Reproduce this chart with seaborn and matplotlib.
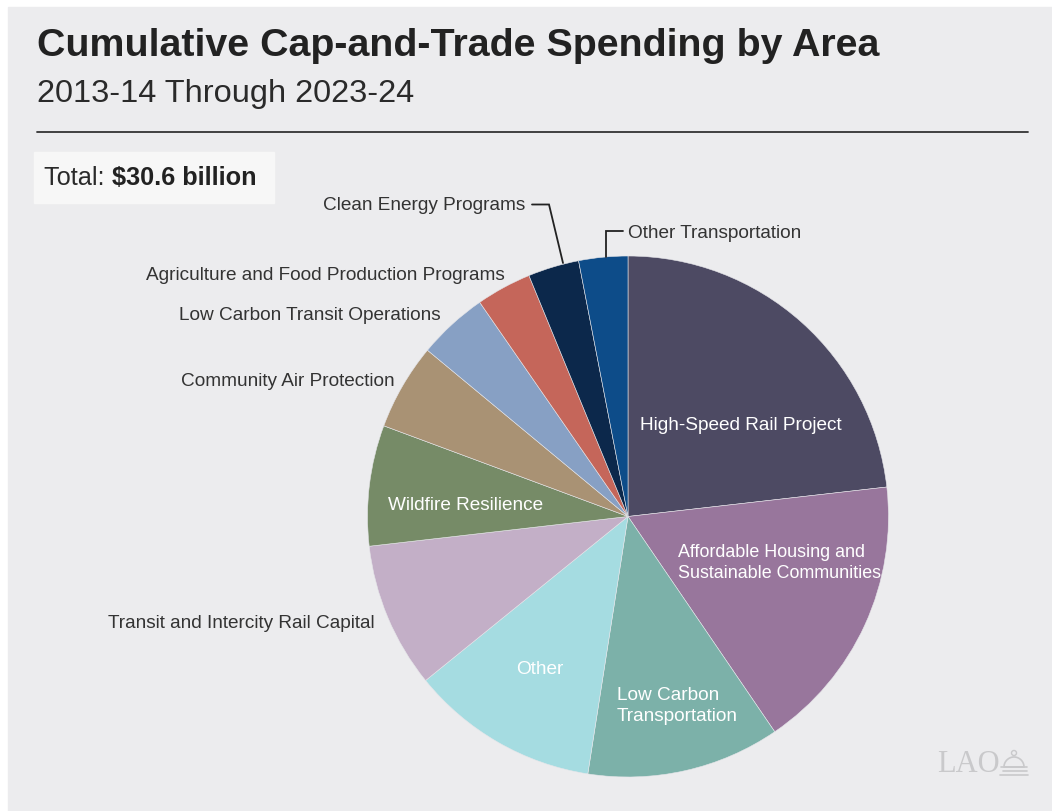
import matplotlib
matplotlib.use("Agg")
import matplotlib.pyplot as plt
import seaborn as sns
from matplotlib.patches import Rectangle, Wedge, Circle

# Spending by area, billions of dollars
areas = [
    "High-Speed Rail Project",
    "Affordable Housing and\nSustainable Communities",
    "Low Carbon\nTransportation",
    "Other",
    "Transit and Intercity Rail Capital",
    "Wildfire Resilience",
    "Community Air Protection",
    "Low Carbon Transit Operations",
    "Agriculture and Food Production Programs",
    "Clean Energy Programs",
    "Other Transportation",
]
spending = [7.10, 5.29, 3.67, 3.58, 2.76, 2.29, 1.64, 1.33, 1.05, 0.97, 0.93]
slice_colors = ["#4d4a63", "#98769c", "#7cb1a9", "#a5dce1", "#c3afc7", "#768b67",
                "#a99274", "#87a0c4", "#c5665a", "#0c284b", "#0d4c89"]
total_label = "$30.6 billion"

W, H = 1052, 811
sns.set_style("white")
plt.rcParams['font.family'] = ['Liberation Sans', 'DejaVu Sans']

fig = plt.figure(figsize=(W / 100, H / 100), dpi=100, facecolor="white")
ax = fig.add_axes([0, 0, 1, 1])
ax.set_xlim(0, W)
ax.set_ylim(H, 0)  # pixel coordinates, y going down
ax.axis("off")

ax.add_patch(Rectangle((8, 7), W - 8, H - 7, color="#ececee", zorder=0))

# titles
ax.text(37, 56, "Cumulative Cap-and-Trade Spending by Area", fontsize=28.4,
        fontweight="bold", color="#222222", va="baseline", ha="left")
ax.text(37, 102, "2013-14 Through 2023-24", fontsize=23.4, color="#2a2a2a",
        va="baseline", ha="left")
ax.plot([37, 1028], [132, 132], color="#333333", lw=1.3)

# total box
ax.add_patch(Rectangle((34, 152), 240, 51, color="#f7f7f7", zorder=1))
t1 = ax.text(44, 178, "Total: ", fontsize=18.2, color="#2a2a2a", va="center", ha="left", zorder=2)
fig.canvas.draw()
bb = t1.get_window_extent(fig.canvas.get_renderer())
ax.text(bb.x1, 178, total_label, fontsize=18.2, fontweight="bold", color="#222222",
        va="center", ha="left", zorder=2)

# pie
cx, cy, r = 628, 516.5, 260.5
wedges, _ = ax.pie(spending, colors=slice_colors, startangle=-90, counterclock=True,
                   center=(cx, cy), radius=r, frame=True,
                   wedgeprops=dict(edgecolor="#e6e6ea", linewidth=0.4))
ax.set_xlim(0, W)
ax.set_ylim(H, 0)
ax.axis("off")

lab = dict(va="center", linespacing=1.26)
inside = {0: (640, 425, 13.7), 1: (678, 563, 12.9), 2: (617, 706, 13.7),
          3: (516, 669, 13.7), 5: (388, 505, 13.7)}
for i, (x, y, fs) in inside.items():
    ax.text(x, y, areas[i], color="white", ha="left", fontsize=fs, **lab)

outside = {4: (375, 623), 6: (395, 381), 7: (441, 315), 8: (505, 275), 9: (525, 206)}
for i, (x, y) in outside.items():
    ax.text(x, y, areas[i], color="#333333", ha="right", fontsize=13.7, **lab)
ax.text(628, 233, areas[10], color="#333333", ha="left", fontsize=13.7, **lab)

# leader lines
ax.plot([532, 549, 563], [204.5, 204.5, 263], color="#222222", lw=1.3,
        solid_joinstyle="miter")
ax.plot([623, 606, 606], [231, 231, 257], color="#222222", lw=1.3,
        solid_joinstyle="miter")

# LAO logo
logo = "#c9c9cb"
ax.text(937, 765, "LAO", family=["Liberation Serif", "DejaVu Serif"], fontsize=22,
        color=logo, ha="left", va="center")
ax.add_patch(Wedge((1014, 767), 10, 180, 360, color=logo, fill=False, lw=1.2))
ax.add_patch(Circle((1014, 753), 2.5, color=logo, fill=False, lw=1.0))
for yy, x0, x1 in [(767, 1001, 1027), (771, 1003, 1027), (775, 1000, 1028)]:
    ax.plot([x0, x1], [yy, yy], color=logo, lw=1.2)

fig.savefig("out.png", dpi=100, facecolor="white")
